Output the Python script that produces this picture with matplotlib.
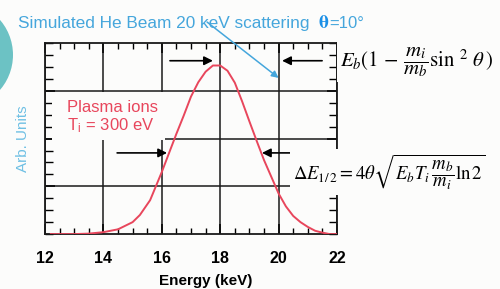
import numpy as np
import matplotlib.pyplot as plt
from matplotlib.patches import Ellipse, Rectangle

plt.rcParams['font.family'] = ['Liberation Sans', 'DejaVu Sans']
plt.rcParams['mathtext.fontset'] = 'stix'

# Curve (energy in keV, arbitrary units)
energia = [12.2, 13.0, 13.5, 14.0, 14.5, 15.0, 15.25, 15.6, 16.0, 16.25, 16.5,
           16.75, 17.0, 17.25, 17.5, 17.75, 18.0, 18.25, 18.5, 18.75, 19.0,
           19.25, 19.5, 19.75, 20.0, 20.25, 20.5, 20.75, 21.0, 21.25, 21.5,
           21.75, 22.0]
sinal = [0.0, 0.0, 0.01, 0.04, 0.10, 0.25, 0.40, 0.71, 1.30, 1.70, 2.10,
         2.48, 2.88, 3.18, 3.40, 3.53, 3.53, 3.42, 3.17, 2.78, 2.36,
         1.95, 1.55, 1.20, 0.85, 0.58, 0.38, 0.25, 0.15, 0.07, 0.03,
         0.0, 0.0]

xticks = [12, 14, 16, 18, 20, 22]
yticks = [1, 2, 3]

# arrows: (start x, end x, y)
setas = [(16.28, 17.75, 3.63), (21.49, 20.12, 3.63),
         (14.47, 16.18, 1.70), (20.49, 19.43, 1.70)]

fundo = '#fcfcfb'
azul = '#45a6dc'
vermelho = '#e8465c'

fig = plt.figure(figsize=(5, 2.89), dpi=100, facecolor=fundo)
ax = fig.add_axes([0.09, 0.19, 0.584, 0.661])
ax.set_facecolor(fundo)

ax.plot(energia, sinal, color=vermelho, lw=1.4, zorder=3)

ax.set_xlim(12, 22)
ax.set_ylim(0, 4)
ax.set_xticks(xticks)
ax.set_yticks(yticks)
ax.set_yticklabels([])
ax.set_xticks(np.arange(12, 22.01, 0.5), minor=True)
ax.set_yticks(np.arange(0, 4.01, 0.25), minor=True)
ax.grid(True, which='major', color='#1a1a1a', lw=1.1)
ax.tick_params(which='major', direction='in', length=7, width=1.1,
               top=True, right=True, pad=12, labelsize=11.5)
ax.tick_params(which='minor', direction='in', length=4, width=1.0,
               top=True, right=True)
ax.tick_params(axis='y', which='minor', length=6)
for lbl in ax.get_xticklabels():
    lbl.set_fontweight('bold')
for s in ax.spines.values():
    s.set_linewidth(1.3)
    s.set_color('#1a1a1a')

ax.set_xlabel('Energy (keV)', fontsize=11, fontweight='bold')
ax.xaxis.set_label_coords(0.55, -0.21)
ax.set_ylabel('Arb. Units', fontsize=11, color='#6fc0e4')
ax.yaxis.set_label_coords(-0.05, 0.5)

for x0, x1, y in setas:
    ax.annotate('', xy=(x1, y), xytext=(x0, y),
                arrowprops=dict(arrowstyle='-|>', color='black', lw=1.2,
                                mutation_scale=13, shrinkA=0, shrinkB=0),
                zorder=4)

# blue pointer line from the title
ax.annotate('', xy=(20.0, 3.27), xytext=(17.55, 4.44),
            arrowprops=dict(arrowstyle='-|>', color=azul, lw=1.1,
                            mutation_scale=10, shrinkA=0, shrinkB=0),
            annotation_clip=False, zorder=5)

# white patch behind the red label (hides the grid there)
ax.add_patch(Rectangle((12.25, 1.96), 3.85, 1.02, facecolor=fundo,
                       edgecolor='none', zorder=2.5))
ax.text(12.75, 2.65, 'Plasma ions', fontsize=12, color=vermelho,
        va='center', zorder=3)
ax.text(12.75, 2.27, r'T$_\mathregular{i}$ = 300 eV', fontsize=12,
        color=vermelho, va='center', zorder=3)

fig.text(0.036, 0.917, 'Simulated He Beam 20 keV scattering', fontsize=12.4,
         color=azul, va='center')
fig.text(0.636, 0.917, r'$\mathbf{\theta}$', fontsize=14, color='#1a8fe6',
         va='center')
fig.text(0.658, 0.917, '=10°', fontsize=12, color=azul, va='center')

fig.text(0.68, 0.785,
         r'$E_b(1\,-\,\dfrac{m_i}{m_b}\mathrm{sin}\ {}^{2}\ \theta\,)$',
         fontsize=15, va='center', ha='left',
         bbox=dict(facecolor=fundo, edgecolor='none', pad=2))
fig.text(0.586, 0.405,
         r'$\Delta E_{1/\,2}=4\theta\sqrt{E_b T_i\,\dfrac{m_b}{m_i}\ln 2}$',
         fontsize=13.5, va='center', ha='left',
         bbox=dict(facecolor=fundo, edgecolor='none', pad=2))

fig.add_artist(Ellipse((-0.081, 0.81), 0.214, 0.371, transform=fig.transFigure,
                       facecolor='#6cc2c4', edgecolor='none'))

fig.savefig('out.png', dpi=100, facecolor=fundo)
